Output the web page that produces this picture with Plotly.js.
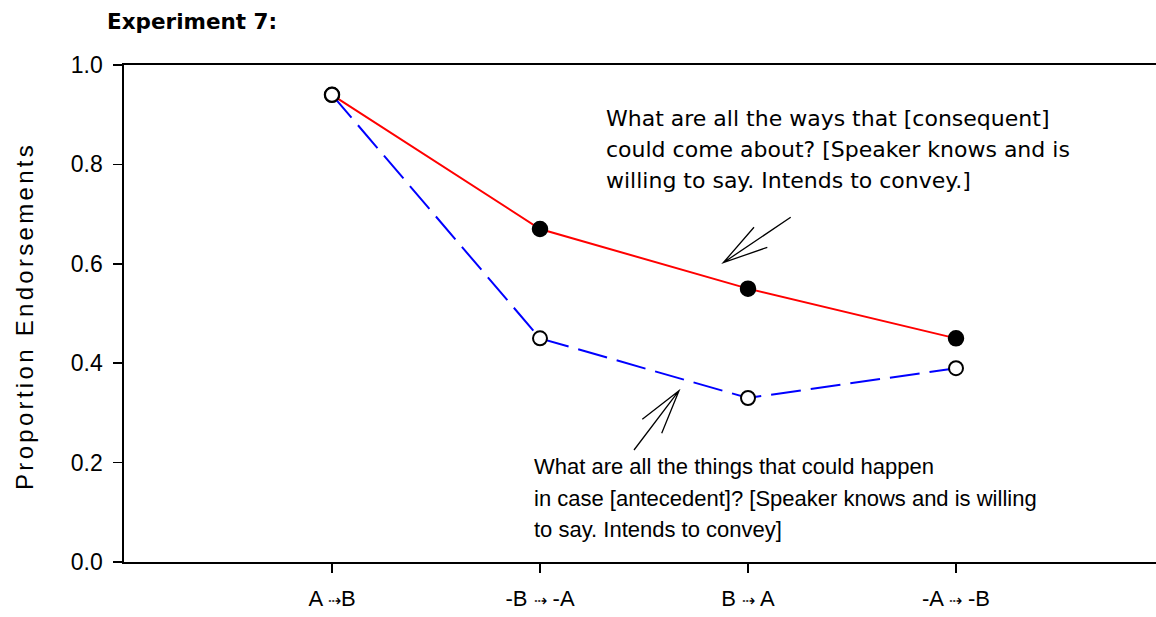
<!DOCTYPE html>
<html>
<head>
<meta charset="utf-8">
<script src="https://cdn.plot.ly/plotly-3.0.1.min.js"></script>
<style>
  html, body { margin: 0; padding: 0; background: #fff; }
  #chart { width: 1156px; height: 617px; }
  .annotation[data-index="6"] text { letter-spacing: 3.3px; }
</style>
</head>
<body>
<div id="chart"></div>
<script>
// ---- data ----
const categories = ["A ⇢B", "-B ⇢ -A", "B ⇢ A", "-A ⇢ -B"];
const consequentSeries = [0.94, 0.67, 0.55, 0.45];   // red, filled markers
const antecedentSeries = [0.94, 0.45, 0.33, 0.39];   // blue dashed, open markers
const yTicks = [0, 0.2, 0.4, 0.6, 0.8, 1.0];
const chartTitle = "Experiment 7:";
const yTitle = "Proportion Endorsements";
const upperNote = [
  "What are all the ways that [consequent]",
  "could come about? [Speaker knows and is",
  "willing to say. Intends to convey.]"
];
const lowerNote = [
  "What are all the things that could happen",
  "in case [antecedent]? [Speaker knows and is willing",
  "to say. Intends to convey]"
];

// ---- layout geometry (pixels) ----
const W = 1156, Hgt = 617;
const L = 124, T = 65, B = 55, R = 0;
const PW = W - L - R, PH = Hgt - T - B;
const catStep = 208;                  // pixel spacing of categories
const fx = px => (px - L) / PW;       // pixel -> paper x
const fy = py => (T + PH - py) / PH;  // pixel -> paper y

const FONT = "Liberation Sans, Arial, Helvetica, sans-serif";
const FONT_WIDE = "DejaVu Sans, Verdana, sans-serif";

const tickText = categories.map(c => c.replace("⇢", '<span style="font-size:16px">⇢</span>'));

const traces = [
  {
    x: categories, y: consequentSeries, type: "scatter", mode: "lines+markers",
    line: { color: "#ff0000", width: 2 },
    marker: { symbol: "circle", size: 15, color: "#000000", line: { color: "#000000", width: 1.5 } },
    hoverinfo: "skip", showlegend: false
  },
  {
    x: categories, y: antecedentSeries, type: "scatter", mode: "lines+markers",
    line: { color: "#0000ff", width: 2, dash: "30px,10px" },
    marker: { symbol: "circle", size: 14, color: "#ffffff", line: { color: "#000000", width: 2 } },
    hoverinfo: "skip", showlegend: false
  }
];

function arrowPath(tail, tip, a1, a2) {
  const p = q => fx(q[0]) + "," + fy(q[1]);
  return "M" + p(tail) + " L" + p(tip) + " M" + p(a1) + " L" + p(tip) + " L" + p(a2);
}

const shapes = [
  { type: "path", xref: "paper", yref: "paper",
    path: arrowPath([790.7, 217.3], [723.3, 262.7], [754, 227.3], [767.3, 247.3]),
    line: { color: "#000000", width: 1.3 } },
  { type: "path", xref: "paper", yref: "paper",
    path: arrowPath([634, 450], [679, 390.7], [642.3, 419.3], [661.7, 433.3]),
    line: { color: "#000000", width: 1.3 } }
];

const annotations = [];
const upperY = [118.4, 149.4, 180.4];
upperNote.forEach((t, i) => annotations.push({
  text: t, xref: "paper", yref: "paper", x: fx(605), y: fy(upperY[i]),
  xanchor: "left", yanchor: "middle", showarrow: false, borderpad: 0,
  font: { family: FONT_WIDE, size: 22, color: "#000000" }
}));
const lowerY = [466.7, 498.4, 529.6];
lowerNote.forEach((t, i) => annotations.push({
  text: t, xref: "paper", yref: "paper", x: fx(533), y: fy(lowerY[i]),
  xanchor: "left", yanchor: "middle", showarrow: false, borderpad: 0,
  font: { family: FONT, size: 22, color: "#000000" }
}));
// y-axis title (index 6)
annotations.push({
  text: yTitle, xref: "paper", yref: "paper", x: fx(24), y: fy(316),
  xanchor: "center", yanchor: "middle", textangle: -90, showarrow: false,
  font: { family: FONT, size: 24, color: "#000000" }
});

const layout = {
  width: W, height: Hgt,
  margin: { l: L, r: R, t: T, b: B, pad: 0 },
  paper_bgcolor: "#ffffff", plot_bgcolor: "#ffffff",
  font: { family: FONT, color: "#000000" },
  title: {
    text: "<b>" + chartTitle + "</b>",
    xref: "container", yref: "container",
    x: 107 / W, xanchor: "left",
    y: 1 - 21 / Hgt, yanchor: "middle",
    font: { family: FONT_WIDE, size: 21.5, color: "#000000" }
  },
  xaxis: {
    type: "category",
    range: [-1, -1 + PW / catStep],
    tickvals: categories, ticktext: tickText,
    showgrid: false, zeroline: false,
    showline: true, linecolor: "#000000", linewidth: 1.7, mirror: true,
    ticks: "outside", ticklen: 9, tickwidth: 1.7, tickcolor: "#000000",
    tickfont: { family: FONT, size: 22, color: "#000000" },
    ticklabelstandoff: 7,
    fixedrange: true
  },
  yaxis: {
    range: [0, 1],
    tickvals: yTicks, tickformat: ".1f",
    showgrid: false, zeroline: false,
    showline: true, linecolor: "#000000", linewidth: 1.7,
    ticks: "outside", ticklen: 9, tickwidth: 1.7, tickcolor: "#000000",
    tickfont: { family: FONT, size: 23, color: "#000000" },
    ticklabelstandoff: 6,
    fixedrange: true
  },
  shapes: shapes,
  annotations: annotations
};

Plotly.newPlot("chart", traces, layout, { displayModeBar: false, staticPlot: true });
</script>
</body>
</html>
